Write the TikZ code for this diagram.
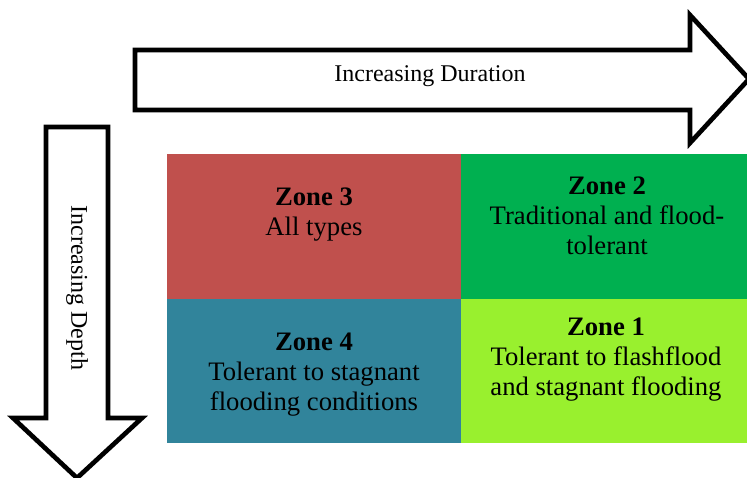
\documentclass[tikz,border=0pt]{standalone}
\usepackage{fontspec}
\setmainfont{Liberation Serif}
\definecolor{zoneone}{HTML}{99F02E}
\definecolor{zonetwo}{HTML}{00B050}
\definecolor{zonethree}{HTML}{C0504D}
\definecolor{zonefour}{HTML}{31849B}
\tikzset{
  bigarrow/.style={draw=black, fill=white, line width=3.5pt, line join=miter},
  cell/.style={draw=none, inner sep=0pt, minimum height=108pt},
  leftcell/.style={cell, minimum width=220.5pt},
  rightcell/.style={cell, minimum width=214.5pt},
  celltext/.style={align=center, inner sep=0pt, font=\fontsize{20}{22.5}\selectfont},
  arrowtext/.style={inner sep=0pt, font=\fontsize{18}{21}\selectfont}
}
\begin{document}
\begin{tikzpicture}[x=0.75pt,y=-0.75pt]
  \useasboundingbox (0,0) rectangle (747,478);
  % duration arrow
  \draw[bigarrow] (135,50)--(690,50)--(690,15)--(749,79)--(690,143)--(690,110)--(135,110)--cycle;
  \node[arrowtext] (dur) at (430,76) {Increasing Duration};
  % depth arrow
  \draw[bigarrow] (46,127)--(108,127)--(108,418)--(142,418)--(77,478)--(13,418)--(46,418)--cycle;
  \node[arrowtext, rotate=-90] (dep) at (77,288) {Increasing Depth};
  % zone cells
  \node[leftcell, fill=zonethree] (z3) at (314,226.5) {};
  \node[rightcell, fill=zonetwo] (z2) at (604,226.5) {};
  \node[leftcell, fill=zonefour] (z4) at (314,370.5) {};
  \node[rightcell, fill=zoneone] (z1) at (604,370.5) {};
  % zone labels
  \node[celltext] (t3) at (314,215) {\textbf{Zone 3}\\All types};
  \node[celltext] (t2) at (607,216) {\textbf{Zone 2}\\Traditional and flood-\\tolerant};
  \node[celltext] (t4) at (314,375) {\textbf{Zone 4}\\Tolerant to stagnant\\flooding conditions};
  \node[celltext] (t1) at (606,360) {\textbf{Zone 1}\\Tolerant to flashflood\\and stagnant flooding};
\end{tikzpicture}
\end{document}
